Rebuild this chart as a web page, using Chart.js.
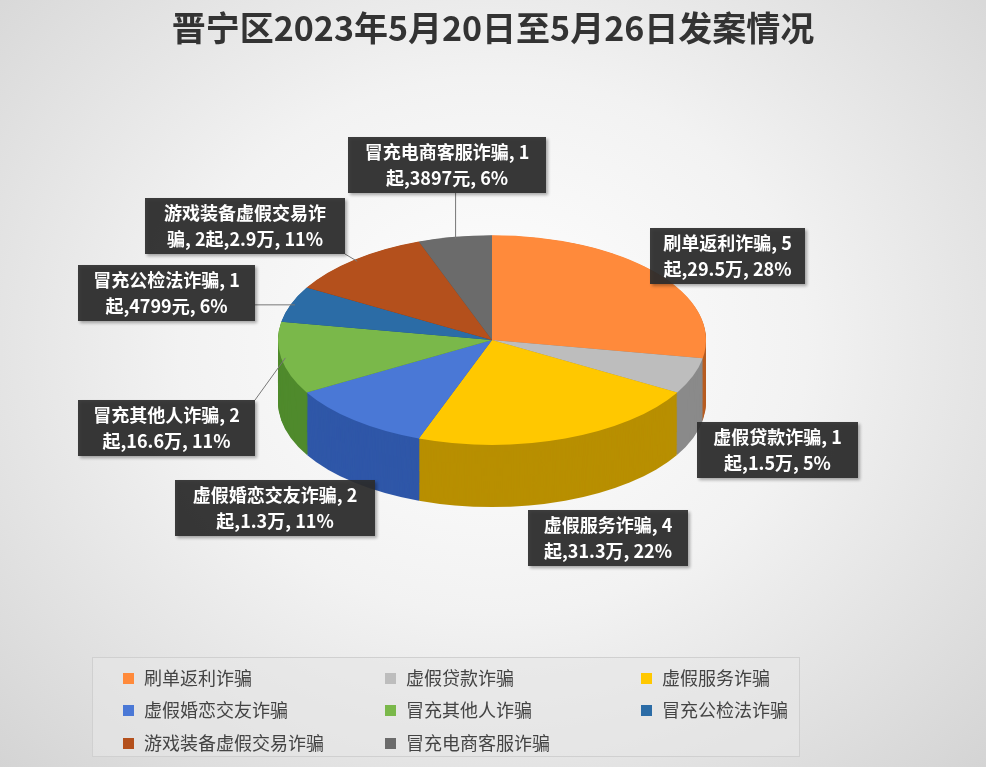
<!DOCTYPE html>
<html><head><meta charset="utf-8">
<script src="https://cdn.jsdelivr.net/npm/chart.js@4"></script>
<style>
body{margin:0;width:986px;height:767px;overflow:hidden;font-family:"Noto Sans CJK SC",sans-serif;
 background:radial-gradient(ellipse at 50% 45%,#ffffff 0%,#f2f2f2 45%,#d4d4d4 100%);}
#wrap{position:absolute;left:0;top:0;width:986px;height:767px}
#legend{position:absolute;left:92px;top:657px;width:708px;height:100px;background:rgba(230,230,230,0.6);
 border:1px solid #d0d0d0;display:grid;grid-template-columns:262px 256px 190px;padding:6px 0 0 30px;box-sizing:border-box;
 font-size:18px;color:#444;row-gap:5px}
#legend span.b{display:inline-block;width:11px;height:11px;margin-right:10px;vertical-align:1px}
</style></head><body>
<div id="wrap"><canvas id="c" width="986" height="767"></canvas></div>
<div id="legend"></div>
<script>
// 数据
const categories = ['刷单返利诈骗','虚假贷款诈骗','虚假服务诈骗','虚假婚恋交友诈骗','冒充其他人诈骗','冒充公检法诈骗','游戏装备虚假交易诈骗','冒充电商客服诈骗'];
const cases = [5,1,4,2,2,1,2,1];
const amounts = ['29.5万','1.5万','31.3万','1.3万','16.6万','4799元','2.9万','3897元'];
const percents = ['28%','5%','22%','11%','11%','6%','11%','6%'];
const colors = ['#FF8A3B','#BDBDBD','#FFC800','#4A78D6','#7AB84A','#2B6CA6','#B4501C','#6B6B6B'];
const sideColors = ['#B85E22','#8A8A8A','#B88F00','#2F57A8','#4F8A2C','#1D4C78','#7E3610','#4A4A4A'];

// 标签框位置 [左, 上, 宽]
const boxes = [[650,228,155],[697,422,161],[528,510,160],[175,480,200],[78,400,177],[78,265,177],[145,198,200],[348,137,198]];
const splits = [[ '刷单返利诈骗, 5','起,29.5万, 28%'],['虚假贷款诈骗, 1','起,1.5万, 5%'],['虚假服务诈骗, 4','起,31.3万, 22%'],
 ['虚假婚恋交友诈骗, 2','起,1.3万, 11%'],['冒充其他人诈骗, 2','起,16.6万, 11%'],['冒充公检法诈骗, 1','起,4799元, 6%'],
 ['游戏装备虚假交易诈','骗, 2起,2.9万, 11%'],['冒充电商客服诈骗, 1','起,3897元, 6%']];
const withLeader = [false,false,false,false,true,true,true,true];

const CX=492, CY=340, SY=0.49, DEPTH=62;

function arcPath(ctx,a,dy){
  ctx.beginPath();
  ctx.moveTo(a.x,a.y+dy);
  ctx.arc(a.x,a.y+dy,a.outerRadius,a.startAngle,a.endAngle);
  ctx.closePath();
}

const pie3d = {
  id:'pie3d',
  beforeDatasetsDraw(chart){
    const ctx=chart.ctx, arcs=chart.getDatasetMeta(0).data;
    const a0=arcs[0];
    ctx.save();
    ctx.translate(CX,CY); ctx.scale(1,SY); ctx.translate(-a0.x,-a0.y);
    for(let d=Math.round(DEPTH/SY); d>0; d-=2){
      arcs.forEach((a,i)=>{ arcPath(ctx,a,d); ctx.fillStyle=sideColors[i]; ctx.fill(); });
    }
  },
  afterDatasetsDraw(chart){
    const ctx=chart.ctx, arcs=chart.getDatasetMeta(0).data;
    ctx.restore();
    // 引导线
    ctx.strokeStyle='#777'; ctx.lineWidth=1;
    arcs.forEach((a,i)=>{
      if(!withLeader[i]) return;
      const m=(a.startAngle+a.endAngle)/2, r=a.outerRadius*0.98;
      const px=CX+Math.cos(m)*r, py=CY+Math.sin(m)*r*SY;
      const b=boxes[i];
      const bx=Math.max(b[0],Math.min(b[0]+b[2],px)), by=Math.max(b[1],Math.min(b[1]+56,py));
      ctx.beginPath();ctx.moveTo(bx,by);ctx.lineTo(px,py);ctx.stroke();
    });
    // 标签
    ctx.font='bold 18px "Noto Sans CJK SC"'; ctx.textAlign='center'; ctx.textBaseline='middle';
    boxes.forEach((b,i)=>{
      ctx.fillStyle='rgba(45,45,45,0.92)';
      ctx.shadowColor='rgba(0,0,0,0.35)'; ctx.shadowOffsetX=2; ctx.shadowOffsetY=2; ctx.shadowBlur=3;
      ctx.fillRect(b[0],b[1],b[2],56);
      ctx.shadowColor='transparent';
      ctx.fillStyle='#fff';
      ctx.fillText(splits[i][0],b[0]+b[2]/2,b[1]+15);
      ctx.fillText(splits[i][1],b[0]+b[2]/2,b[1]+41);
    });
  }
};

new Chart(document.getElementById('c'),{
  type:'pie',
  data:{labels:categories,datasets:[{data:cases,backgroundColor:colors,borderWidth:0,radius:214}]},
  options:{responsive:false,animation:false,
    plugins:{legend:{display:false},tooltip:{enabled:false},
      title:{display:true,text:'晋宁区2023年5月20日至5月26日发案情况',color:'#333',
        font:{size:34,weight:'bold',family:'"Noto Sans CJK SC"'},padding:{top:8,bottom:0}}}},
  plugins:[pie3d]
});

const lg=document.getElementById('legend');
categories.forEach((c,i)=>{const d=document.createElement('div');
  d.innerHTML='<span class="b" style="background:'+colors[i]+'"></span>'+c; lg.appendChild(d);});
</script>
</body></html>
